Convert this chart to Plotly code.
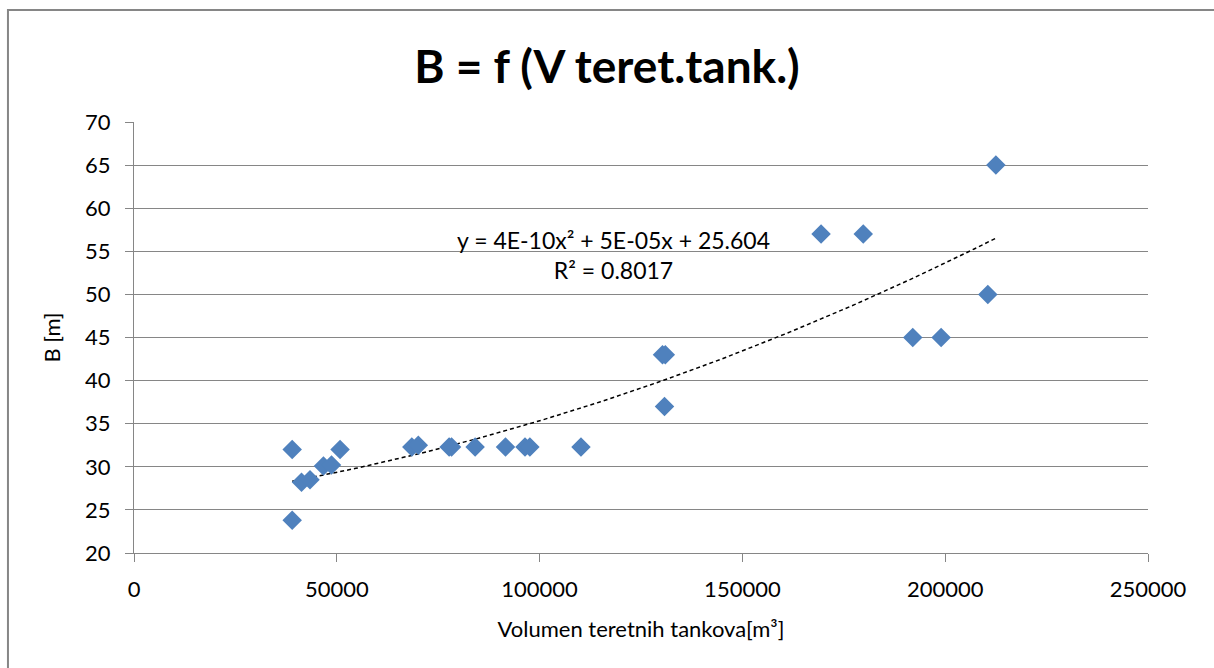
import numpy as np
import plotly.graph_objects as go

# volumen teretnih tankova [m3] i sirina B [m]
volumen = [39000, 39000, 41300, 43400, 46700, 48700, 50800, 68500, 70100,
           77700, 78300, 84100, 91600, 96400, 97600, 110200, 130300, 131000,
           130800, 169400, 179800, 192000, 199000, 210500, 212500]
sirina = [32, 23.8, 28.2, 28.5, 30.1, 30.2, 32, 32.3, 32.5,
          32.3, 32.3, 32.3, 32.3, 32.3, 32.3, 32.3, 43, 43,
          37, 57, 57, 45, 45, 50, 65]

x_ticks = [0, 50000, 100000, 150000, 200000, 250000]
y_ticks = [20, 25, 30, 35, 40, 45, 50, 55, 60, 65, 70]

# polinomski trend 2. reda
coef = np.polyfit(volumen, sirina, 2)
x_fit = np.linspace(min(volumen), max(volumen), 200)
y_fit = np.polyval(coef, x_fit)

font = "Lato, 'Open Sans', sans-serif"
grey = "#868686"

fig = go.Figure()

fig.add_trace(
    go.Scatter(
        x=x_fit,
        y=y_fit,
        mode="lines",
        line={"color": "black", "width": 1.5, "dash": "4px,3px"},
        hoverinfo="skip",
        showlegend=False,
    )
)

fig.add_trace(
    go.Scatter(
        x=volumen,
        y=sirina,
        mode="markers",
        marker={"symbol": "diamond", "size": 15, "color": "#4F81BD"},
        showlegend=False,
    )
)

fig.update_layout(
    width=1214,
    height=668,
    paper_bgcolor="white",
    plot_bgcolor="white",
    margin={"l": 134, "r": 66, "t": 122, "b": 115, "autoexpand": False},
    font={"family": font, "size": 22, "color": "black"},
    title={
        "text": "<b>B = f (V teret.tank.)</b>",
        "x": 0.5,
        "xanchor": "center",
        "y": 0.9,
        "yanchor": "middle",
        "font": {"size": 46, "family": font, "color": "black"},
    },
    xaxis={
        "range": [0, 250000],
        "tickvals": x_ticks,
        "ticktext": [str(v) for v in x_ticks],
        "showgrid": False,
        "zeroline": False,
        "showline": True,
        "linecolor": grey,
        "ticks": "outside",
        "ticklen": 8,
        "tickcolor": grey,
        "ticklabelstandoff": 9,
        "automargin": False,
        "title": {"text": "Volumen teretnih tankova[m³]", "standoff": 20,
                  "font": {"size": 22}},
    },
    yaxis={
        "range": [20, 70],
        "tickvals": y_ticks,
        "showgrid": True,
        "gridcolor": grey,
        "zeroline": False,
        "showline": True,
        "linecolor": grey,
        "ticks": "outside",
        "ticklen": 8,
        "tickcolor": grey,
        "ticklabelstandoff": 10,
        "automargin": False,
        "title": {"text": "B [m]", "standoff": 18, "font": {"size": 22}},
    },
    annotations=[
        {
            "text": "y = 4E-10x² + 5E-05x + 25.604<br>R² = 0.8017",
            "x": 118100,
            "y": 0.691,
            "xref": "x",
            "yref": "paper",
            "yanchor": "middle",
            "showarrow": False,
            "align": "center",
            "font": {"size": 23, "family": font},
        }
    ],
    shapes=[
        {
            "type": "rect",
            "xref": "paper",
            "yref": "paper",
            "x0": -0.1243,
            "x1": 1.1,
            "y0": -0.3,
            "y1": 1.2599,
            "line": {"color": grey, "width": 2},
            "layer": "below",
        }
    ],
)

fig.write_html(
    "out.html",
    config={"displayModeBar": False},
    post_script="document.body.style.margin = '0';",
)
